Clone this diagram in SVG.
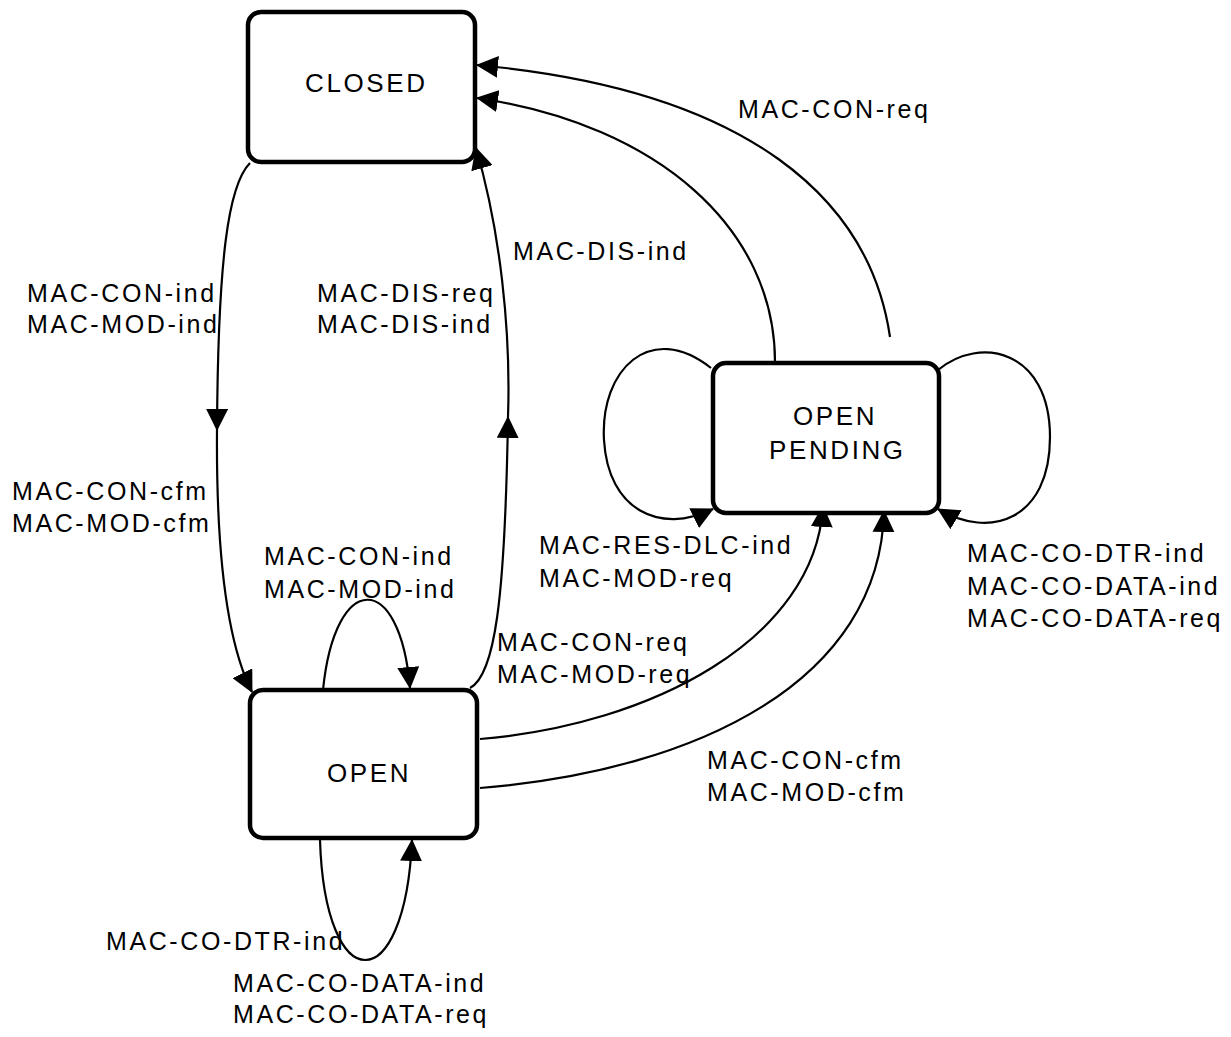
<svg xmlns="http://www.w3.org/2000/svg" width="1231" height="1037" viewBox="0 0 1231 1037">
<style>
.box{fill:#fff;stroke:#000;stroke-width:4.5}
.bt{font-family:"Liberation Sans",Arial,sans-serif;font-size:26px;letter-spacing:2.6px;fill:#000}
.lb{font-family:"Liberation Sans",Arial,sans-serif;font-size:25px;letter-spacing:2.6px;fill:#000}
.c{fill:none;stroke:#000;stroke-width:2.2}
.a{marker-end:url(#ah)}
</style>
<defs>
<marker id="ah" markerUnits="userSpaceOnUse" markerWidth="22" markerHeight="22" viewBox="0 0 22 22" refX="21" refY="11" orient="auto">
<path d="M0,0 L22,11 L0,22 z" fill="#000"/>
</marker>
</defs>
<rect width="1231" height="1037" fill="#fff"/>
<g id="connectors">
<path class="c a" d="M250,163 C228,185 218,260 217,430"/>
<path class="c a" d="M217,430 C216,560 228,645 252,692"/>
<path class="c a" d="M470,688 C495,675 505,600 508,417"/>
<path class="c a" d="M508,417 C511,330 500,230 476,148"/>
<path class="c a" d="M775,362 C775,230 660,125 477,98"/>
<path class="c a" d="M890,337 C870,200 750,90 477,65"/>
<path class="c a" d="M480,739 C650,725 815,640 823,506"/>
<path class="c a" d="M480,788 C700,770 880,680 884,511"/>
<path class="c a" d="M323,690 C335,570 400,570 410,688"/>
<path class="c a" d="M320,840 C325,1000 405,1000 412,840"/>
<path class="c a" d="M711,368 C650,320 600,370 604,440 C608,510 660,535 713,509"/>
<path class="c a" d="M938,370 C980,335 1050,350 1050,437 C1050,520 990,540 938,509"/>
</g>
<g id="closed">
<rect class="box" x="248" y="12" width="227" height="150" rx="13"/>
<text class="bt" x="305" y="92">CLOSED</text>
</g>
<g id="open">
<rect class="box" x="250" y="690" width="227" height="148" rx="13"/>
<text class="bt" x="327" y="782">OPEN</text>
</g>
<g id="open-pending">
<rect class="box" x="713" y="363" width="226" height="150" rx="13"/>
<text class="bt" x="793" y="425">OPEN</text>
<text class="bt" x="769" y="459">PENDING</text>
</g>
<g id="labels">
<text class="lb" x="27" y="302">MAC-CON-ind</text>
<text class="lb" x="27" y="333">MAC-MOD-ind</text>
<text class="lb" x="317" y="302">MAC-DIS-req</text>
<text class="lb" x="317" y="333">MAC-DIS-ind</text>
<text class="lb" x="513" y="260">MAC-DIS-ind</text>
<text class="lb" x="738" y="118">MAC-CON-req</text>
<text class="lb" x="12" y="500">MAC-CON-cfm</text>
<text class="lb" x="12" y="532">MAC-MOD-cfm</text>
<text class="lb" x="264" y="565">MAC-CON-ind</text>
<text class="lb" x="264" y="598">MAC-MOD-ind</text>
<text class="lb" x="539" y="554">MAC-RES-DLC-ind</text>
<text class="lb" x="539" y="587">MAC-MOD-req</text>
<text class="lb" x="497" y="651">MAC-CON-req</text>
<text class="lb" x="497" y="683">MAC-MOD-req</text>
<text class="lb" x="707" y="769">MAC-CON-cfm</text>
<text class="lb" x="707" y="801">MAC-MOD-cfm</text>
<text class="lb" x="967" y="562">MAC-CO-DTR-ind</text>
<text class="lb" x="967" y="595">MAC-CO-DATA-ind</text>
<text class="lb" x="967" y="627">MAC-CO-DATA-req</text>
<text class="lb" x="106" y="950">MAC-CO-DTR-ind</text>
<text class="lb" x="233" y="992">MAC-CO-DATA-ind</text>
<text class="lb" x="233" y="1023">MAC-CO-DATA-req</text>
</g>
</svg>
